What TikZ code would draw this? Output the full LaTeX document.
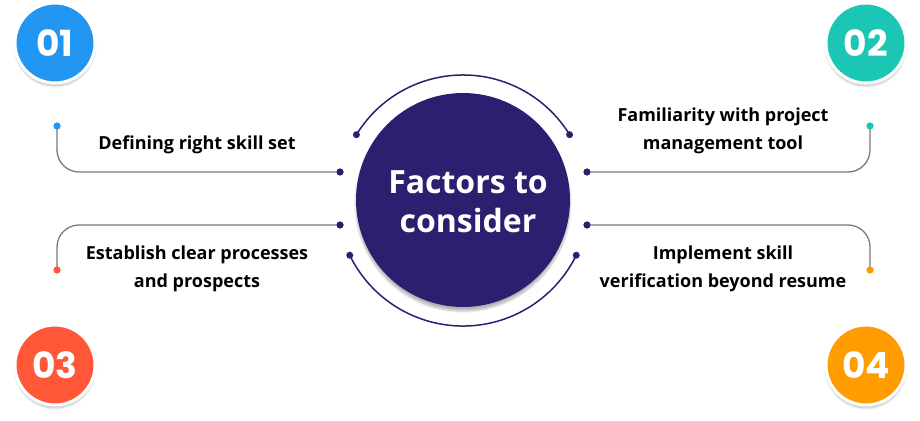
\documentclass[tikz,border=0pt]{standalone}
\usepackage{fontspec}
\setmainfont{Open Sans}
\newfontfamily\pop{Poppins}
\usetikzlibrary{shadows.blur}
\definecolor{navy}{HTML}{2C1F70}
\definecolor{cA}{HTML}{2196F3}
\definecolor{cB}{HTML}{1CC6B5}
\definecolor{cC}{HTML}{FF5737}
\definecolor{cD}{HTML}{FF9C00}
\definecolor{lineg}{HTML}{7A7A7A}
\tikzset{
 badge/.style={circle,minimum size=80pt,inner sep=0pt,draw=white,line width=3pt,text=white,font=\pop\bfseries\fontsize{36}{36}\selectfont,blur shadow={shadow blur steps=8,shadow xshift=0pt,shadow yshift=-3pt,shadow opacity=25}},
 lbl/.style={font=\bfseries\fontsize{18}{28}\selectfont,align=center,text=black},
 conn/.style={draw=lineg,line width=1.3pt,rounded corners=22pt},
 arcl/.style={draw=navy,line width=1.5pt},
 dot/.style={circle,fill=#1,inner sep=0pt,minimum size=7pt},
}
\begin{document}
\begin{tikzpicture}[x=1pt,y=-1pt]
\useasboundingbox (0,0) rectangle (920,420);
\node[circle,fill=navy,minimum size=214pt,inner sep=0pt,blur shadow={shadow blur steps=10,shadow xshift=0pt,shadow yshift=-4pt,shadow opacity=30}] (c) at (463,200) {};
\node[text=white,font=\bfseries\fontsize{32}{39}\selectfont,align=center] (ct) at (468,202) {Factors to\\consider};
\path (463,200) coordinate (o);
\draw[arcl] ([shift={(148.5:125pt)}]o) arc[start angle=148.5,end angle=31.5,radius=125pt];
\draw[arcl] ([shift={(-154:126pt)}]o) arc[start angle=-154,end angle=-26,radius=126pt];
\node[dot=navy] (a1) at ([shift={(148.5:125pt)}]o) {};
\node[dot=navy] (a2) at ([shift={(31.5:125pt)}]o) {};
\node[dot=navy] (a3) at ([shift={(-154:126pt)}]o) {};
\node[dot=navy] (a4) at ([shift={(-26:126pt)}]o) {};
\node[dot=navy] (l1) at (340,172) {};
\node[dot=navy] (l2) at (340,225) {};
\node[dot=navy] (r1) at (587,172) {};
\node[dot=navy] (r2) at (587,225) {};
\node[dot=cA] (e1) at (57,126) {};
\node[dot=cB] (e2) at (870,126) {};
\node[dot=cC] (e3) at (57,270) {};
\node[dot=cD] (e4) at (870,270) {};
\draw[conn] (e1.center) |- (l1);
\draw[conn] (e2.center) |- (r1);
\draw[conn] (e3.center) |- (l2);
\draw[conn] (e4.center) |- (r2);
\node[dot=cA] at (e1) {};\node[dot=cB] at (e2) {};\node[dot=cC] at (e3) {};\node[dot=cD] at (e4) {};
\node[dot=navy] at (l1) {};\node[dot=navy] at (l2) {};\node[dot=navy] at (r1) {};\node[dot=navy] at (r2) {};
\node[lbl] (t1) at (197,145) {Defining right skill set};
\node[lbl] (t2) at (723,131) {Familiarity with project\\management tool};
\node[lbl] (t3) at (197,269) {Establish clear processes\\and prospects};
\node[lbl] (t4) at (723,269) {Implement skill\\verification beyond resume};
\node[badge,fill=cA] (b1) at (55,43) {01};
\node[badge,fill=cB] (b2) at (866,43) {02};
\node[badge,fill=cC] (b3) at (55,365) {03};
\node[badge,fill=cD] (b4) at (866,365) {04};
\end{tikzpicture}
\end{document}
